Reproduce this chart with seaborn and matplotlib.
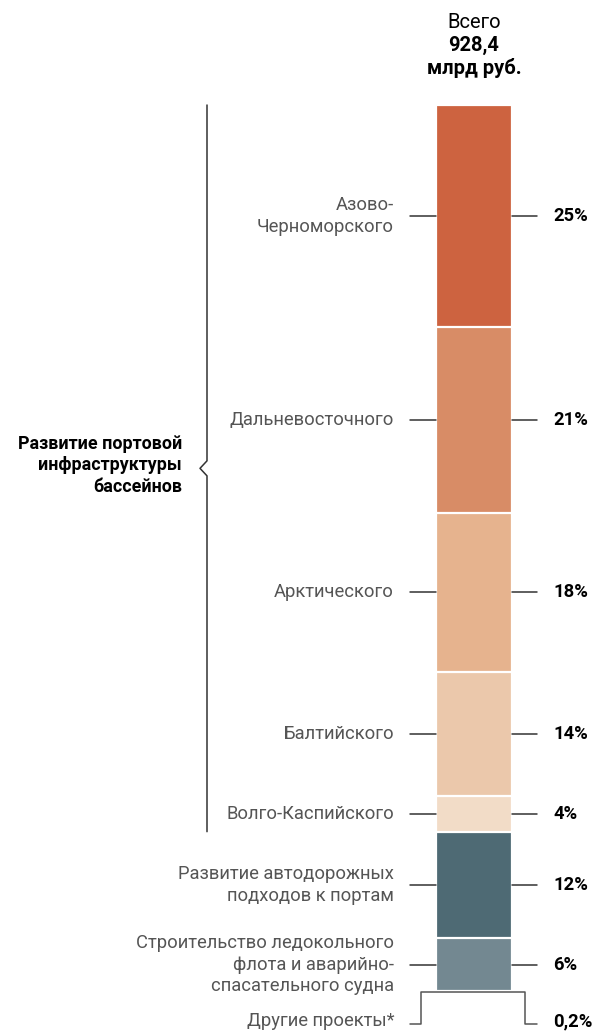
import matplotlib
matplotlib.use("Agg")
import matplotlib.pyplot as plt
import seaborn as sns
import pandas as pd
import numpy as np

# Segment data (share of total, %)
segments = ["Азово-\nЧерноморского", "Дальневосточного", "Арктического", "Балтийского",
            "Волго-Каспийского", "Развитие автодорожных\nподходов к портам",
            "Строительство ледокольного\nфлота и аварийно-\nспасательного судна",
            "Другие проекты*"]
shares = [25, 21, 18, 14, 4, 12, 6, 0.2]
share_labels = ["25%", "21%", "18%", "14%", "4%", "12%", "6%", "0,2%"]
colors = ["#CD6340", "#D88C66", "#E6B38E", "#EBC8AB", "#F2DCC7", "#4E6A74", "#738891", "#666666"]
total_lines = ["Всего", "928,4", "млрд руб."]
group_label = "Развитие портовой\nинфраструктуры\nбассейнов"
group_size = 5  # first five segments are port basins

sns.set_theme(style="white")
plt.rcParams["font.family"] = ["Roboto", "DejaVu Sans"]

W, H = 593, 1033
fig = plt.figure(figsize=(W / 100, H / 100), dpi=100)
ax = fig.add_axes([0, 0, 1, 1])

# scale helpers (pixel layout -> data units)
BAR_CX, BAR_W_PX = 474, 76
PX_X = BAR_W_PX / 0.8
TOP_PX, PX_Y = 105, 8.862
def X(px):
    return (px - BAR_CX) / PX_X
def Y(py):
    return (py - TOP_PX) / PX_Y

cum = np.cumsum(shares)
df = pd.DataFrame({"seg": segments, "cum": cum, "col": "all"})
order = list(segments[::-1])  # deepest bars drawn first
pal = dict(zip(segments, colors))
sns.barplot(data=df, x="col", y="cum", hue="seg", hue_order=order, palette=pal,
            dodge=False, width=0.8, saturation=1, edgecolor="white", linewidth=1.6,
            legend=False, ax=ax)

ax.set_xlim(X(0), X(W))
ax.set_ylim(Y(H), Y(0))
ax.axis("off")

label_col = "#555555"
line_col = "#333333"
fs = 13.2
fs_pct = 13.2
fs_group = 12.9
fs_head = 14.5

mids = cum - np.array(shares) / 2
for i, (seg, m, lab) in enumerate(zip(segments, mids, share_labels)):
    if i == len(segments) - 1:
        continue
    ax.plot([X(410), X(436)], [m, m], color=line_col, lw=1.1)
    ax.plot([X(512), X(537)], [m, m], color=line_col, lw=1.1)
    ax.text(X(394), m, seg, ha="right", va="center", fontsize=fs, color=label_col,
            linespacing=1.25)
    ax.text(X(553), m, lab, ha="left", va="center", fontsize=fs_pct, color="black",
            fontweight="bold")

# bracket for the tiny last segment
yb = cum[-2] + shares[-1] / 2
ylow = Y(1024)
ax.plot([X(410), X(421), X(421), X(525), X(525), X(537)],
        [ylow, ylow, yb, yb, ylow, ylow], color="#555555", lw=1.1)
ax.text(X(394), Y(1021), segments[-1], ha="right", va="center", fontsize=fs, color=label_col)
ax.text(X(553), Y(1021), share_labels[-1], ha="left", va="center", fontsize=fs_pct,
        color="black", fontweight="bold")

# brace for port basins group
g_top, g_bot = 0, cum[group_size - 1]
g_mid = (g_top + g_bot) / 2
bx, nx, dn = X(207), X(200), 7.5 / PX_Y
ax.plot([bx, bx, nx, bx, bx], [g_top, g_mid - dn, g_mid, g_mid + dn, g_bot],
        color=line_col, lw=1.1)
ax.text(X(182), g_mid - 3 / PX_Y, group_label, ha="right", va="center", fontsize=fs_group,
        fontweight="bold", color="black", linespacing=1.25)

# total header
ax.text(X(BAR_CX), Y(22), total_lines[0], ha="center", va="center", fontsize=fs_head, color="black")
ax.text(X(BAR_CX), Y(45), total_lines[1], ha="center", va="center", fontsize=fs_head,
        color="black", fontweight="bold")
ax.text(X(BAR_CX), Y(68), total_lines[2], ha="center", va="center", fontsize=fs_head,
        color="black", fontweight="bold")

fig.savefig("out.png", dpi=100, facecolor="white")
